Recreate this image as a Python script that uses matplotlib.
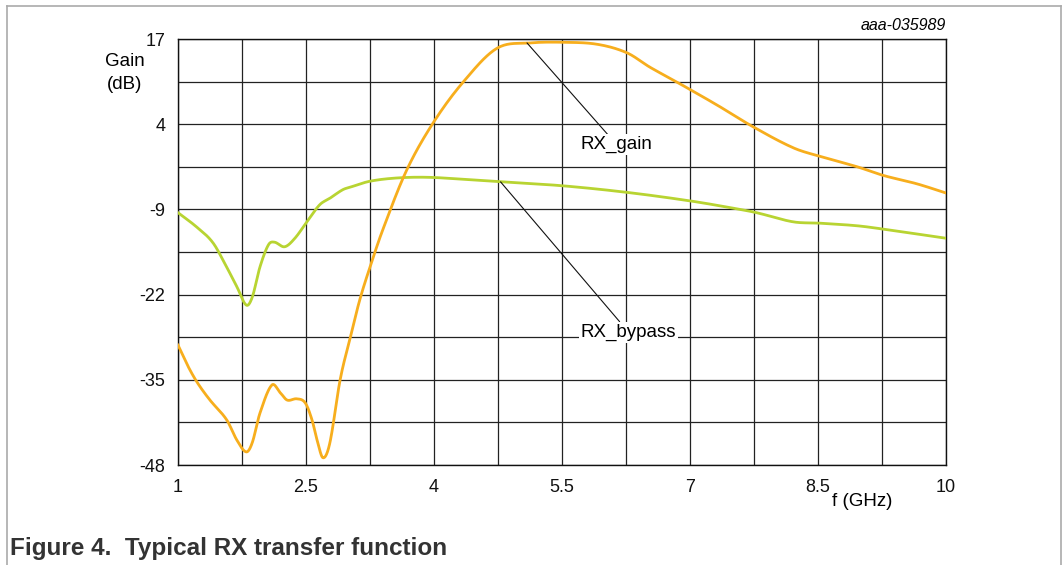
import matplotlib
matplotlib.use("Agg")
import numpy as np
from matplotlib import pyplot as plt
from matplotlib.lines import Line2D

plt.rcParams["font.family"] = ["Liberation Sans", "DejaVu Sans"]

# frequency (GHz) / gain (dB)
gain_f = [1.0, 1.12, 1.23, 1.375, 1.57, 1.69, 1.80, 1.87, 1.96, 2.10, 2.20, 2.28, 2.39,
          2.49, 2.57, 2.63, 2.70, 2.78, 2.90, 3.02, 3.13, 3.25, 3.40, 3.68, 3.99, 4.34,
          4.74, 5.13, 5.51, 5.91, 6.26, 6.53, 6.85, 7.32, 7.74, 8.21, 8.52, 8.96, 9.26,
          9.66, 10.0]
gain_db = [-29.7, -33.0, -35.5, -38.1, -41.1, -44.2, -46.0, -44.6, -40.1, -35.8, -37.0,
           -38.1, -37.9, -38.5, -41.1, -44.2, -46.9, -44.6, -35.0, -28.5, -22.8, -17.8,
           -12.1, -3.0, 4.2, 10.4, 15.6, 16.4, 16.5, 16.2, 14.9, 12.7, 10.4, 6.9, 3.6,
           0.4, -0.9, -2.5, -3.8, -5.1, -6.5]

bypass_f = [1.0, 1.22, 1.41, 1.57, 1.69, 1.80, 1.87, 1.96, 2.06, 2.13, 2.25, 2.37, 2.51,
            2.66, 2.78, 2.93, 3.02, 3.25, 3.57, 3.92, 4.34, 4.81, 5.51, 6.26, 7.0, 7.5,
            7.78, 8.21, 8.52, 8.96, 9.26, 10.0]
bypass_db = [-9.5, -11.7, -14.1, -17.8, -20.8, -23.6, -22.4, -17.8, -14.4, -14.0, -14.7,
             -13.4, -10.9, -8.3, -7.3, -6.0, -5.6, -4.7, -4.2, -4.1, -4.4, -4.8, -5.4,
             -6.4, -7.7, -8.8, -9.5, -10.9, -11.1, -11.5, -12.0, -13.4]

x_labels = [1, 2.5, 4, 5.5, 7, 8.5, 10]
y_labels = [17, 4, -9, -22, -35, -48]


def smooth(xs, ys):
    # cubic Hermite through the read points
    xs = np.asarray(xs, float)
    ys = np.asarray(ys, float)
    out_x, out_y = [], []
    for i in range(len(xs) - 1):
        p0 = ys[max(i - 1, 0)]
        p1, p2 = ys[i], ys[i + 1]
        p3 = ys[min(i + 2, len(ys) - 1)]
        x0 = xs[max(i - 1, 0)]
        x3 = xs[min(i + 2, len(xs) - 1)]
        h = xs[i + 1] - xs[i]
        m1 = (p2 - p0) / (xs[i + 1] - x0) * h
        m2 = (p3 - p1) / (x3 - xs[i]) * h
        t = np.linspace(0, 1, 20, endpoint=False)
        h00 = 2 * t**3 - 3 * t**2 + 1
        h10 = t**3 - 2 * t**2 + t
        h01 = -2 * t**3 + 3 * t**2
        h11 = t**3 - t**2
        out_x.extend(xs[i] + t * h)
        out_y.extend(h00 * p1 + h10 * m1 + h01 * p2 + h11 * m2)
    out_x.append(xs[-1])
    out_y.append(ys[-1])
    return np.array(out_x), np.array(out_y)


fig = plt.figure(figsize=(10.63, 5.65), dpi=100)
ax = fig.add_axes([178 / 1063, 100 / 565, 768 / 1063, 426 / 565])

gx, gy = smooth(gain_f, gain_db)
bx, by = smooth(bypass_f, bypass_db)
ax.plot(bx, by, color="#B8D432", lw=2.0, zorder=3)
ax.plot(gx, gy, color="#F7AE1D", lw=2.0, zorder=3)

ax.set_xlim(1, 10)
ax.set_ylim(-48, 17)
ax.set_xticks(np.arange(1, 10.01, 0.75), minor=True)
ax.set_yticks(np.arange(-48, 17.01, 6.5), minor=True)
ax.set_xticks(x_labels)
ax.set_xticklabels([str(v) for v in x_labels])
ax.set_yticks(y_labels)
ax.set_yticklabels([str(v) for v in y_labels])
ax.grid(which="both", color="#222222", lw=0.9, zorder=1)
ax.tick_params(which="both", length=0, labelsize=13, colors="#111111")
ax.tick_params(axis="y", pad=9)
ax.tick_params(axis="x", pad=10)
for s in ax.spines.values():
    s.set_color("#111111")
    s.set_linewidth(1.0)

ax.annotate("RX_gain", xy=(5.09, 16.4), xytext=(5.72, 0.2), fontsize=13.5,
            va="baseline", ha="left", zorder=5,
            bbox=dict(boxstyle="square,pad=0.1", fc="white", ec="none"),
            arrowprops=dict(arrowstyle="-", color="#111111", lw=0.8, shrinkA=0, shrinkB=0))
ax.annotate("RX_bypass", xy=(4.78, -4.8), xytext=(5.72, -28.4), fontsize=13.5,
            va="baseline", ha="left", zorder=5,
            bbox=dict(boxstyle="square,pad=0.1", fc="white", ec="none"),
            arrowprops=dict(arrowstyle="-", color="#111111", lw=0.8, shrinkA=0, shrinkB=0))

fig.text(125 / 1063, 1 - 61 / 565, "Gain", ha="center", va="center", fontsize=13.5)
fig.text(125 / 1063, 1 - 84 / 565, "(dB)", ha="center", va="center", fontsize=13.5)
fig.text(862 / 1063, 1 - 501 / 565, "f (GHz)", ha="center", va="center", fontsize=13.5)
fig.text(946 / 1063, 1 - 26 / 565, "aaa-035989", ha="right", va="center",
         fontsize=11.5, style="italic")
fig.text(10 / 1063, 1 - 549 / 565, "Figure 4.  Typical RX transfer function",
         ha="left", va="center", fontsize=17.5, fontweight="bold", color="#333333")

# page frame (open at the bottom)
W, H = 1063, 565
for xs, ys in [([7, 7], [565, 6]), ([7, 1061], [6, 6]), ([1061, 1061], [6, 565])]:
    fig.add_artist(Line2D([x / W for x in xs], [1 - y / H for y in ys],
                          color="#AAAAAA", lw=1.2, transform=fig.transFigure))

fig.savefig("out.png", dpi=100)
